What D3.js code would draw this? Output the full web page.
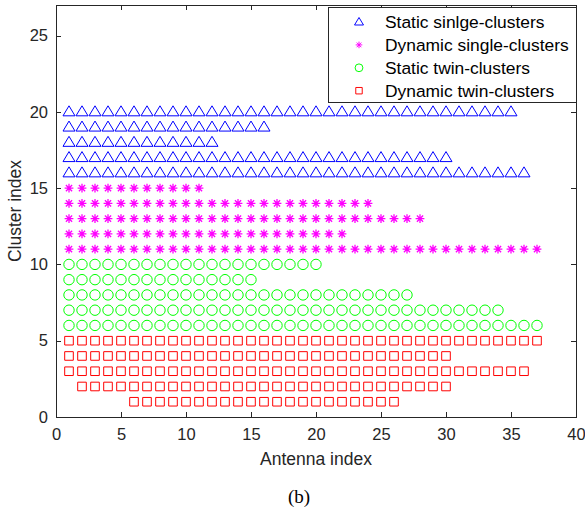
<!DOCTYPE html>
<html lang="en">
<head>
<meta charset="utf-8">
<title>Cluster index vs antenna index</title>
<style>
body{
  margin: 0;
  background: #fff;
}
.axis text{
  font: 16.5px "Liberation Sans", Arial, sans-serif;
  fill: #262626;
}
.axis path, .axis line{
  stroke: #262626;
  shape-rendering: crispEdges;
}
</style>
<script src="https://d3js.org/d3.v7.min.js"></script>
</head>
<body>
<div id="chart"></div>
<script>
/* rows: [cluster index, first antenna, last antenna] */
var staticSingle  = [[20, 1, 35], [19, 1, 16], [18, 1, 12], [17, 1, 30], [16, 1, 36]];
var dynamicSingle = [[15, 1, 11], [14, 1, 24], [13, 1, 28], [12, 1, 22], [11, 1, 37]];
var staticTwin    = [[10, 1, 20], [9, 1, 15], [8, 1, 27], [7, 1, 34], [6, 1, 37]];
var dynamicTwin   = [[5, 1, 37], [4, 1, 30], [3, 1, 36], [2, 2, 30], [1, 6, 26]];

var seriesNames  = ['Static sinlge-clusters', 'Dynamic single-clusters', 'Static twin-clusters', 'Dynamic twin-clusters'];
var seriesColors = ['#0000ff', '#ff00ff', '#00ff00', '#ff0000'];
var seriesShapes = ['triangle', 'star', 'circle', 'square'];
var xTicks = [0, 5, 10, 15, 20, 25, 30, 35, 40];
var yTicks = [0, 5, 10, 15, 20, 25];

var margin = { top: 5, right: 9, bottom: 96, left: 56 };
var W = 585, H = 513;
var width = W - margin.left - margin.right, height = H - margin.top - margin.bottom;

var xScale = d3.scaleLinear().domain([0, 40]).range([0, width]);
var yScale = d3.scaleLinear().domain([0, 27]).range([height, 0]);

var svg = d3.select('#chart').append('svg')
  .attr('width', W).attr('height', H);
var graph = svg.append('g')
  .attr('transform', 'translate(' + margin.left + ',' + margin.top + ')');

function markerPath(shape) {
  if (shape === 'triangle') return 'M0,-6L6,4L-6,4Z';
  if (shape === 'square') return 'M-4.3,-4.3H4.3V4.3H-4.3Z';
  if (shape === 'circle') return 'M5.2,0A5.2,5.2 0 1,1 -5.2,0A5.2,5.2 0 1,1 5.2,0Z';
  // asterisk
  return 'M0,-4.4V4.4M-4.4,0H4.4M-3.1,-3.1L3.1,3.1M-3.1,3.1L3.1,-3.1';
}

var allSeries = [staticSingle, dynamicSingle, staticTwin, dynamicTwin];
allSeries.forEach(function(rows, i) {
  var pts = [];
  rows.forEach(function(r) {
    d3.range(r[1], r[2] + 1).forEach(function(a) { pts.push({ x: a, y: r[0] }); });
  });
  graph.append('g').selectAll('path')
    .data(pts)
    .enter()
    .append('path')
    .attr('d', markerPath(seriesShapes[i]))
    .attr('transform', function(d) { return 'translate(' + xScale(d.x) + ',' + yScale(d.y) + ')'; })
    .style('fill', 'none')
    .style('stroke', seriesColors[i])
    .style('stroke-width', seriesShapes[i] === 'star' ? 1.3 : 1);
});

/* axes, MATLAB style: inward ticks on all four sides */
graph.append('g').attr('class', 'axis')
  .attr('transform', 'translate(0,' + height + ')')
  .call(d3.axisBottom(xScale).tickValues(xTicks).tickSizeInner(-5).tickSizeOuter(0).tickPadding(11));
graph.append('g').attr('class', 'axis')
  .call(d3.axisLeft(yScale).tickValues(yTicks).tickSizeInner(-5).tickSizeOuter(0).tickPadding(8));
graph.append('g').attr('class', 'axis')
  .call(d3.axisTop(xScale).tickValues(xTicks).tickSizeInner(-5).tickSizeOuter(0).tickFormat(''));
graph.append('g').attr('class', 'axis')
  .attr('transform', 'translate(' + width + ',0)')
  .call(d3.axisRight(yScale).tickValues(yTicks).tickSizeInner(-5).tickSizeOuter(0).tickFormat(''));

/* axis labels */
graph.append('text')
  .attr('x', width / 2).attr('y', height + 48)
  .attr('text-anchor', 'middle')
  .style('font', '17.5px "Liberation Sans", Arial, sans-serif')
  .style('fill', '#262626')
  .text('Antenna index');
graph.append('text')
  .attr('transform', 'translate(-35,' + (height / 2) + ') rotate(-90)')
  .attr('text-anchor', 'middle')
  .style('font', '17.5px "Liberation Sans", Arial, sans-serif')
  .style('fill', '#262626')
  .text('Cluster index');

svg.append('text')
  .attr('x', 299).attr('y', 503)
  .attr('text-anchor', 'middle')
  .style('font', '19px "Liberation Serif", "Times New Roman", serif')
  .style('fill', '#000')
  .text('(b)');

/* legend */
var legend = svg.append('g').attr('transform', 'translate(328,7)');
legend.append('rect')
  .attr('width', 248).attr('height', 95)
  .style('fill', '#fff')
  .style('stroke', '#262626')
  .style('stroke-width', 1)
  .style('shape-rendering', 'crispEdges');
seriesNames.forEach(function(name, i) {
  var row = legend.append('g').attr('transform', 'translate(0,' + (21 + i * 22.9) + ')');
  row.append('path')
    .attr('d', markerPath(seriesShapes[i]))
    .attr('transform', 'translate(31,-6) scale(0.75)')
    .style('fill', 'none')
    .style('stroke', seriesColors[i])
    .style('stroke-width', 1.3);
  row.append('text')
    .attr('x', 57).attr('y', 0)
    .style('font', '17.4px "Liberation Sans", Arial, sans-serif')
    .style('fill', '#000')
    .text(name);
});
</script>
</body>
</html>
